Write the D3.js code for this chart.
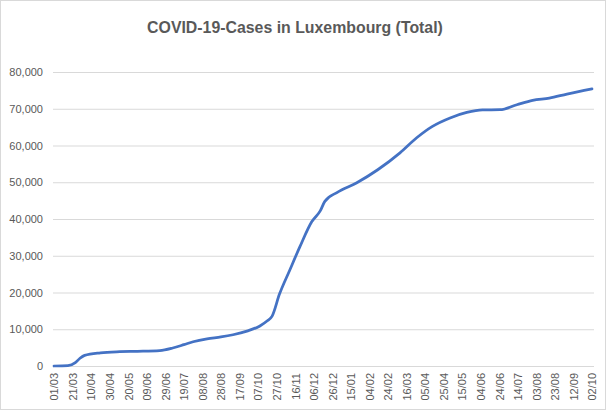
<!DOCTYPE html>
<html>
<head>
<meta charset="utf-8">
<script src="https://cdn.jsdelivr.net/npm/d3@7"></script>
<style>
  body { margin: 0; background: #fff; }
  svg { display: block; font-family: 'Liberation Sans', Arial, sans-serif; }
</style>
</head>
<body>
<svg id="chart"></svg>
<script>
const width = 607;
const height = 412;

const title = 'COVID-19-Cases in Luxembourg (Total)';

// dates, cumulative cases
const dates = [
    '2020-03-01', '2020-03-16', '2020-03-24', '2020-03-29', '2020-04-03',
    '2020-04-20', '2020-05-11', '2020-05-30', '2020-06-23', '2020-07-07',
    '2020-07-19', '2020-07-29', '2020-08-13', '2020-08-28', '2020-09-10',
    '2020-09-25', '2020-10-09', '2020-10-17', '2020-10-22', '2020-10-30',
    '2020-11-10', '2020-11-21', '2020-12-04', '2020-12-13', '2020-12-18',
    '2020-12-31', '2021-01-21', '2021-02-13', '2021-03-09', '2021-03-27',
    '2021-04-13', '2021-05-02', '2021-05-20', '2021-06-06', '2021-06-25',
    '2021-07-13', '2021-07-30', '2021-08-17', '2021-09-05', '2021-10-02'
];
const cases = [
    0, 80, 900, 2100, 2900,
    3600, 3900, 4000, 4200, 4900,
    5800, 6600, 7400, 7900, 8500,
    9500, 10900, 12300, 13500, 19500,
    26000, 32400, 39300, 42200, 44800,
    47200, 49800, 53400, 58000, 62100,
    65200, 67500, 69000, 69700, 69750,
    71100, 72300, 72900, 74000, 75400
];

const tickLabels = [
    '01/03', '21/03', '10/04', '30/04', '20/05', '09/06', '29/06', '19/07',
    '08/08', '28/08', '17/09', '07/10', '27/10', '16/11', '06/12', '26/12',
    '15/01', '04/02', '24/02', '16/03', '05/04', '25/04', '15/05', '04/06',
    '24/06', '14/07', '03/08', '23/08', '12/09', '02/10'
];
const yTicks = [0, 10000, 20000, 30000, 40000, 50000, 60000, 70000, 80000];

const parse = d3.timeParse('%Y-%m-%d');
const data = dates.map((d, i) => ({ date: parse(d), value: cases[i] }));
const start = data[0].date;
const tickDates = tickLabels.map((_, i) => d3.timeDay.offset(start, i * 20));

const margin = { top: 72, right: 14, bottom: 46, left: 54 };

const svg = d3.select('#chart')
    .attr('width', width)
    .attr('height', height);

// chart area border
svg.append('rect')
    .attr('x', 0.5).attr('y', 0.5)
    .attr('width', 605).attr('height', 409)
    .attr('fill', '#fff')
    .attr('stroke', '#d9d9d9');

const x = d3.scaleTime()
    .domain([start, data[data.length - 1].date])
    .range([margin.left, width - margin.right - 1]);

const y = d3.scaleLinear()
    .domain([0, 80000])
    .range([height - margin.bottom, margin.top]);

// gridlines + y labels
const yAxis = d3.axisLeft(y)
    .tickValues(yTicks)
    .tickSize(-(width - margin.right - margin.left + 2))
    .tickPadding(10)
    .tickFormat(d3.format(','));

svg.append('g')
    .attr('transform', `translate(${margin.left - 1},0)`)
    .call(yAxis)
    .call(g => g.select('.domain').remove())
    .call(g => g.selectAll('line').attr('stroke', '#d9d9d9'))
    .call(g => g.selectAll('text')
        .attr('fill', '#595959')
        .style('font-size', '11px'));

// x axis labels, rotated
const xAxis = d3.axisBottom(x)
    .tickValues(tickDates)
    .tickSize(0)
    .tickPadding(6)
    .tickFormat((d, i) => tickLabels[i]);

svg.append('g')
    .attr('transform', `translate(0,${height - margin.bottom})`)
    .call(xAxis)
    .call(g => g.select('.domain').attr('stroke', '#d9d9d9'))
    .call(g => g.selectAll('text')
        .attr('fill', '#595959')
        .style('font-size', '11px')
        .attr('text-anchor', 'end')
        .attr('transform', 'rotate(-90)')
        .attr('x', -7)
        .attr('y', 0)
        .attr('dy', '0.35em'));

const line = d3.line()
    .x(d => x(d.date))
    .y(d => y(d.value))
    .curve(d3.curveMonotoneX);

svg.append('path')
    .datum(data)
    .attr('fill', 'none')
    .attr('stroke', '#4472C4')
    .attr('stroke-width', 2.75)
    .attr('stroke-linejoin', 'round')
    .attr('stroke-linecap', 'round')
    .attr('d', line);

const t = svg.append('text')
    .attr('x', 295)
    .attr('y', 33)
    .attr('text-anchor', 'middle')
    .attr('fill', '#595959')
    .style('font-weight', 'bold')
    .style('font-size', '17px')
    .text(title);

// squeeze to the narrower width of the original title
const w = t.node().getComputedTextLength();
if (w > 296) t.style('font-size', `${17 * 296 / w}px`);
</script>
</body>
</html>
